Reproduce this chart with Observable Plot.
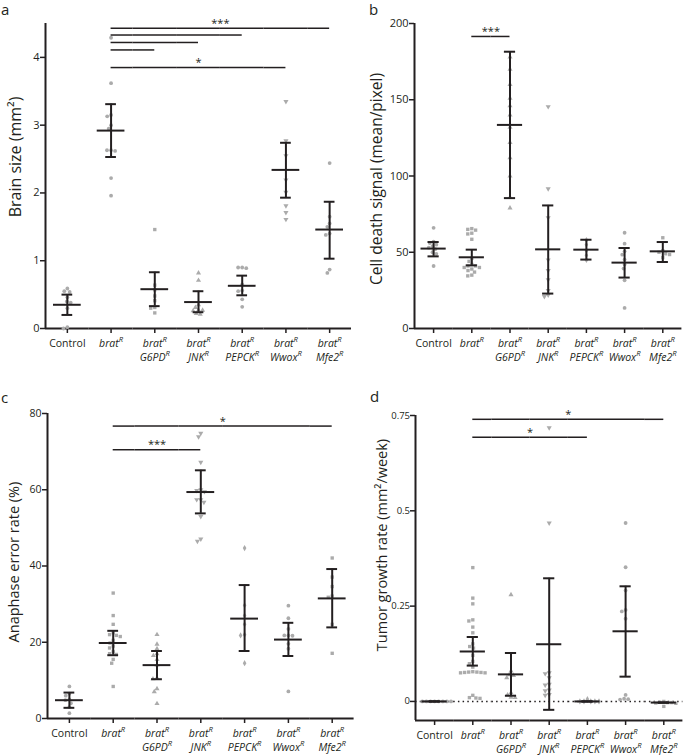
<!DOCTYPE html>
<html><head><meta charset="utf-8">
<script src="https://cdn.jsdelivr.net/npm/d3@7"></script>
<script src="https://cdn.jsdelivr.net/npm/@observablehq/plot@0.6"></script>
<style>
body{margin:0;background:#fff;}
#root{position:relative;width:685px;height:755px;overflow:hidden;font-family:"Open Sans",sans-serif;color:#231f20;}
#root svg{position:absolute;}
.letter{position:absolute;font-size:15px;line-height:1.2;font-family:"Open Sans",sans-serif;}
</style></head><body><div id="root"></div>
<script>
// ---------------- DATA ----------------
const groups = ["Control", "brat", "G6PD", "JNK", "PEPCK", "Wwox", "Mfe2"];
const tickLabels = ["Control", "brat^R", "brat^R\nG6PD^R", "brat^R\nJNK^R", "brat^R\nPEPCK^R", "brat^R\nWwox^R", "brat^R\nMfe2^R"];

// a: Brain size (mm2)
const aPoints = [
  [0.59, 0.55, 0.54, 0.46, 0.40, 0.38, 0.30, 0.02, 0.0],
  [4.29, 3.62, 3.15, 3.13, 3.00, 2.95, 2.63, 2.63, 2.62, 2.22, 1.96],
  [1.46, 0.64, 0.57, 0.48, 0.41, 0.31, 0.30, 0.23],
  [0.82, 0.71, 0.35, 0.31, 0.27, 0.27, 0.26, 0.22, 0.21],
  [0.90, 0.90, 0.89, 0.65, 0.56, 0.55, 0.43, 0.32],
  [3.35, 2.77, 2.55, 2.19, 2.01, 1.81, 1.71, 1.61],
  [2.44, 1.65, 1.55, 1.50, 1.40, 1.38, 0.87, 0.82]
];
const aMean = [0.35, 2.92, 0.58, 0.39, 0.63, 2.34, 1.46];
const aLow  = [0.20, 2.53, 0.33, 0.24, 0.49, 1.93, 1.03];
const aHigh = [0.50, 3.31, 0.83, 0.55, 0.78, 2.74, 1.87];
const aTicks = [0, 1, 2, 3, 4];
const aSigFrom  = ["brat", "brat", "brat", "brat", "brat"];
const aSigTo    = ["Mfe2", "PEPCK", "JNK", "G6PD", "Wwox"];
const aSigLevel = [4.43, 4.33, 4.22, 4.11, 3.85];
const aSigStars = ["***", "", "", "", "*"];

// b: Cell death signal (mean/pixel)
const bPoints = [
  [66, 57, 56, 55, 54, 53, 52, 50, 49, 41],
  [65.5, 65.0, 64.5, 62.5, 62.0, 58.5, 46, 44, 42, 41, 41, 40, 40, 39, 38, 37, 35, 34.5],
  [178, 170, 160, 151, 146, 140, 132, 122, 112, 100, 86, 79],
  [145.5, 91.6, 72.6, 45, 38, 32, 25, 22, 21],
  [58, 55, 51, 48, 45],
  [62.8, 55.6, 50.6, 48.4, 45.2, 41.9, 39.3, 31.6, 13.5],
  [59.5, 51, 50, 49, 48.5, 46.5]
];
const bMean = [52.4, 46.7, 133.5, 51.9, 51.7, 43.2, 50.6];
const bLow  = [47.3, 41.4, 85.5, 22.9, 45.2, 33.4, 43.6];
const bHigh = [56.7, 51.7, 181.5, 80.7, 58.2, 52.8, 56.7];
const bTicks = [0, 50, 100, 150, 200];
const bSigFrom  = ["brat"];
const bSigTo    = ["G6PD"];
const bSigLevel = [191.5];
const bSigStars = ["***"];

// c: Anaphase error rate (%)
const cPoints = [
  [8.4, 6.5, 6.0, 5.0, 4.8, 4.0, 3.0, 1.4],
  [32.9, 27.0, 24.7, 22.5, 22.0, 21.8, 21.5, 20.5, 19.8, 19.0, 18.5, 17.5, 17.0, 16.8, 15.5, 14.5, 8.4],
  [22.0, 19.5, 18.3, 17.0, 16.5, 15.5, 14.0, 10.6, 10.4, 7.8, 7.0, 3.9],
  [74.8, 73.9, 67.2, 60.0, 59.8, 59.5, 57.4, 57.4, 56.7, 53.0, 47.1, 46.5],
  [44.7, 29.7, 27.0, 24.7, 22.0, 21.8, 14.5],
  [29.6, 26.3, 23.5, 21.8, 21.8, 21.7, 19.6, 18.3, 7.1],
  [42.1, 37.1, 34.6, 32.1, 31.8, 24.7, 17.1]
];
const cMean = [4.8, 19.8, 14.0, 59.4, 26.2, 20.7, 31.5];
const cLow  = [2.8, 16.6, 10.3, 53.8, 17.7, 16.4, 23.9];
const cHigh = [6.8, 23.0, 17.7, 65.1, 35.0, 25.1, 39.2];
const cTicks = [0, 20, 40, 60, 80];
const cSigFrom  = ["brat", "brat"];
const cSigTo    = ["Mfe2", "JNK"];
const cSigLevel = [76.7, 70.5];
const cSigStars = ["*", "***"];

// d: Tumor growth rate (mm2/week)
const dPoints = [
  [0, 0, 0, 0, 0, 0, 0, 0],
  [0.351, 0.271, 0.256, 0.214, 0.211, 0.195, 0.180, 0.151, 0.144, 0.140, 0.121, 0.105, 0.099, 0.090, 0.078, 0.077, 0.077, 0.076, 0.076, 0.075, 0.075, 0.016, 0.010, 0.009, 0.008],
  [0.280, 0.080, 0.070, 0.068, 0.062, 0.023, 0.017, 0.011, 0.010],
  [0.718, 0.468, 0.075, 0.073, 0.062, 0.045, 0.043, 0.030, 0.028, 0.018, 0.016],
  [0.006, 0, 0, 0, 0, 0],
  [0.468, 0.352, 0.291, 0.240, 0.236, 0.217, 0.017, 0.007, 0.006, 0.005],
  [0, -0.002, -0.003, -0.003, -0.004, -0.005, -0.013]
];
const dMean = [0, 0.131, 0.071, 0.150, 0, 0.184, -0.003];
const dLow  = [0, 0.094, 0.015, -0.022, 0, 0.065, -0.003];
const dHigh = [0, 0.169, 0.127, 0.323, 0, 0.302, -0.003];
const dTicks = [0, 0.25, 0.5, 0.75];
const dSigFrom  = ["brat", "brat"];
const dSigTo    = ["Mfe2", "PEPCK"];
const dSigLevel = [0.74, 0.693];
const dSigStars = ["*", "*"];

// ---------------- STYLE ----------------
const INK = "#231f20";
const DOT = "#ababab";
const xDom = [-0.5, 0.5];
const triangleDown = {
  draw(context, size) {
    const y = -Math.sqrt(size / (Math.sqrt(3) * 3));
    context.moveTo(0, -y * 2);
    context.lineTo(-Math.sqrt(3) * y, y);
    context.lineTo(Math.sqrt(3) * y, y);
    context.closePath();
  }
};
const symA = [d3.symbolCircle, d3.symbolCircle, d3.symbolSquare, d3.symbolTriangle, d3.symbolCircle, triangleDown, d3.symbolCircle];
const symB = [d3.symbolCircle, d3.symbolSquare, d3.symbolTriangle, triangleDown, d3.symbolDiamond, d3.symbolCircle, d3.symbolSquare];

const SVGNS = "http://www.w3.org/2000/svg";

function panel(cfg) {
  const pts = groups.flatMap((g, i) => cfg.points[i].map(v => ({g, v})));
  const stats = groups.map((g, i) => ({g, mean: cfg.mean[i], lo: cfg.low[i], hi: cfg.high[i]}));
  const segs = [], stars = [];
  cfg.sigFrom.forEach((f, k) => {
    const i0 = groups.indexOf(f), i1 = groups.indexOf(cfg.sigTo[k]);
    for (let i = i0; i <= i1; i++) {
      segs.push({g: groups[i], y: cfg.sigLevel[k], x1: i === i0 ? 0 : xDom[0], x2: i === i1 ? 0 : xDom[1]});
    }
    if (cfg.sigStars[k]) {
      const mid = (i0 + i1) / 2, fi = Math.floor(mid + 0.25);
      stars.push({g: groups[fi], x: mid - fi, y: cfg.sigLevel[k], t: cfg.sigStars[k]});
    }
  });
  const titleRow = [{g: groups[0], t: cfg.title + cfg.titleSmall}];
  const sym = cfg.symbols;

  const svg = Plot.plot({
    width: cfg.width, height: cfg.height,
    marginLeft: cfg.ml, marginRight: cfg.mr, marginTop: cfg.mt, marginBottom: cfg.mb,
    style: {background: "transparent", overflow: "visible", fontFamily: "'Open Sans', sans-serif", fontSize: "11px", color: INK},
    fx: {domain: groups, padding: 0, round: false, axis: null, label: null},
    x: {domain: xDom, axis: null},
    y: {domain: cfg.yDomain, axis: null},
    marks: [
      cfg.zeroLine ? Plot.ruleY([0], {stroke: INK, strokeWidth: 1.5, strokeDasharray: "1.5 3.2"}) : null,
      Plot.ruleY([cfg.yDomain[0]], {stroke: INK, strokeWidth: 2}),
      Plot.ruleX([{g: groups[0]}], {fx: "g", x: xDom[0], y1: cfg.yDomain[0], y2: cfg.yDomain[1], stroke: INK, strokeWidth: 2}),
      Plot.axisY({ticks: cfg.yTicks, tickSize: 5, tickPadding: cfg.yPad, tickFormat: d3.format("~g"), strokeWidth: 1.5, label: null, facetAnchor: "left", fontSize: cfg.yFont}),
      Plot.axisFx({anchor: "bottom", tickSize: 5, tickPadding: 4, tickFormat: g => tickLabels[groups.indexOf(g)], lineHeight: 1.3, strokeWidth: 1.5, label: null, fontSize: 10.5}),
      Plot.text(titleRow, {fx: "g", frameAnchor: "left", textAnchor: "middle", lineAnchor: "middle", text: "t", rotate: -90, dx: cfg.titleDx, dy: cfg.titleDy, fontSize: cfg.titleSize, fill: INK, ariaLabel: "y-title"}),
      Plot.dot(pts, Plot.dodgeX({anchor: "middle", padding: 0.3}, {fx: "g", y: "v", r: 1.9, symbol: d => sym[groups.indexOf(d.g)], fill: DOT, stroke: "none"})),
      Plot.ruleX(stats, {fx: "g", x: 0, y1: "lo", y2: "hi", stroke: INK, strokeWidth: 2}),
      Plot.tickY(stats, {fx: "g", y: "mean", insetLeft: cfg.meanInset, insetRight: cfg.meanInset, stroke: INK, strokeWidth: 2}),
      Plot.tickY(stats, {fx: "g", y: "hi", insetLeft: cfg.capInset, insetRight: cfg.capInset, stroke: INK, strokeWidth: 2}),
      Plot.tickY(stats, {fx: "g", y: "lo", insetLeft: cfg.capInset, insetRight: cfg.capInset, stroke: INK, strokeWidth: 2}),
      Plot.ruleY(segs, {fx: "g", y: "y", x1: "x1", x2: "x2", stroke: INK, strokeWidth: 1.5}),
      Plot.text(stars, {fx: "g", x: "x", y: "y", text: "t", dy: -5, fontSize: 11, fill: INK})
    ]
  });

  // rich text: italic labels with superscripts
  svg.querySelectorAll('[aria-label="fx-axis tick label"] text').forEach(t => {
    const spans = t.querySelectorAll("tspan");
    const nodes = spans.length ? [...spans] : [t];
    nodes.forEach(n => {
      const s = n.textContent;
      if (!s.includes("^")) return;
      n.textContent = "";
      n.setAttribute("font-style", "italic");
      s.split("^").forEach((part, j) => {
        if (j === 0) n.appendChild(document.createTextNode(part));
        else {
          const sup = document.createElementNS(SVGNS, "tspan");
          sup.setAttribute("baseline-shift", "super");
          sup.setAttribute("font-size", "72%");
          sup.textContent = part;
          n.appendChild(sup);
        }
      });
    });
  });
  // y title with smaller parenthetical
  svg.querySelectorAll('[aria-label="y-title"] text').forEach(t => {
    t.textContent = "";
    const a = document.createElementNS(SVGNS, "tspan");
    a.textContent = cfg.title;
    t.appendChild(a);
    if (cfg.titleSmall) {
      const b = document.createElementNS(SVGNS, "tspan");
      b.setAttribute("font-size", cfg.smallSize + "px");
      b.textContent = cfg.titleSmall;
      t.appendChild(b);
    }
  });

  svg.style.left = cfg.left + "px";
  svg.style.top = cfg.top + "px";
  document.getElementById("root").appendChild(svg);
}

panel({left: 0, top: 0, width: 355, height: 370, ml: 45, mr: 4, mt: 23, mb: 42,
  yDomain: [0, 4.5], yTicks: aTicks, yFont: 11, yPad: 1, points: aPoints, mean: aMean, low: aLow, high: aHigh,
  sigFrom: aSigFrom, sigTo: aSigTo, sigLevel: aSigLevel, sigStars: aSigStars,
  title: "Brain size (mm²)", titleSmall: "", titleSize: 16, smallSize: 11, titleDx: -30, titleDy: -19,
  symbols: symA, meanInset: 8, capInset: 16.5, zeroLine: false});

panel({left: 340, top: 0, width: 345, height: 370, ml: 74, mr: 3.6, mt: 23, mb: 42,
  yDomain: [0, 200], yTicks: bTicks, yFont: 11, yPad: 1, points: bPoints, mean: bMean, low: bLow, high: bHigh,
  sigFrom: bSigFrom, sigTo: bSigTo, sigLevel: bSigLevel, sigStars: bSigStars,
  title: "Cell death signal ", titleSmall: "(mean/pixel)", titleSize: 15.5, smallSize: 11.5, titleDx: -37, titleDy: 3,
  symbols: symB, meanInset: 6.5, capInset: 13.5, zeroLine: false});

panel({left: 0, top: 370, width: 356, height: 385, ml: 47, mr: 2.4, mt: 43, mb: 37,
  yDomain: [0, 80], yTicks: cTicks, yFont: 10.5, yPad: 1, points: cPoints, mean: cMean, low: cLow, high: cHigh,
  sigFrom: cSigFrom, sigTo: cSigTo, sigLevel: cSigLevel, sigStars: cSigStars,
  title: "Anaphase error rate ", titleSmall: "(%)", titleSize: 14.5, smallSize: 11, titleDx: -33, titleDy: -4,
  symbols: symB, meanInset: 8, capInset: 16.5, zeroLine: false});

panel({left: 340, top: 370, width: 345, height: 385, ml: 75, mr: 2.6, mt: 45, mb: 35,
  yDomain: [-0.05, 0.75], yTicks: dTicks, yFont: 9.5, yPad: 0.5, points: dPoints, mean: dMean, low: dLow, high: dHigh,
  sigFrom: dSigFrom, sigTo: dSigTo, sigLevel: dSigLevel, sigStars: dSigStars,
  title: "Tumor growth rate ", titleSmall: "(mm²/week)", titleSize: 14.5, smallSize: 11, titleDx: -33, titleDy: -23,
  symbols: symB, meanInset: 6.5, capInset: 13.5, zeroLine: true});

// panel letters
[["a", 1, 0], ["b", 369, 0], ["c", 1, 388], ["d", 370, 387]].forEach(([t, x, y]) => {
  const el = document.createElement("div");
  el.className = "letter";
  el.textContent = t;
  el.style.left = x + "px";
  el.style.top = y + "px";
  document.getElementById("root").appendChild(el);
});
</script></body></html>
